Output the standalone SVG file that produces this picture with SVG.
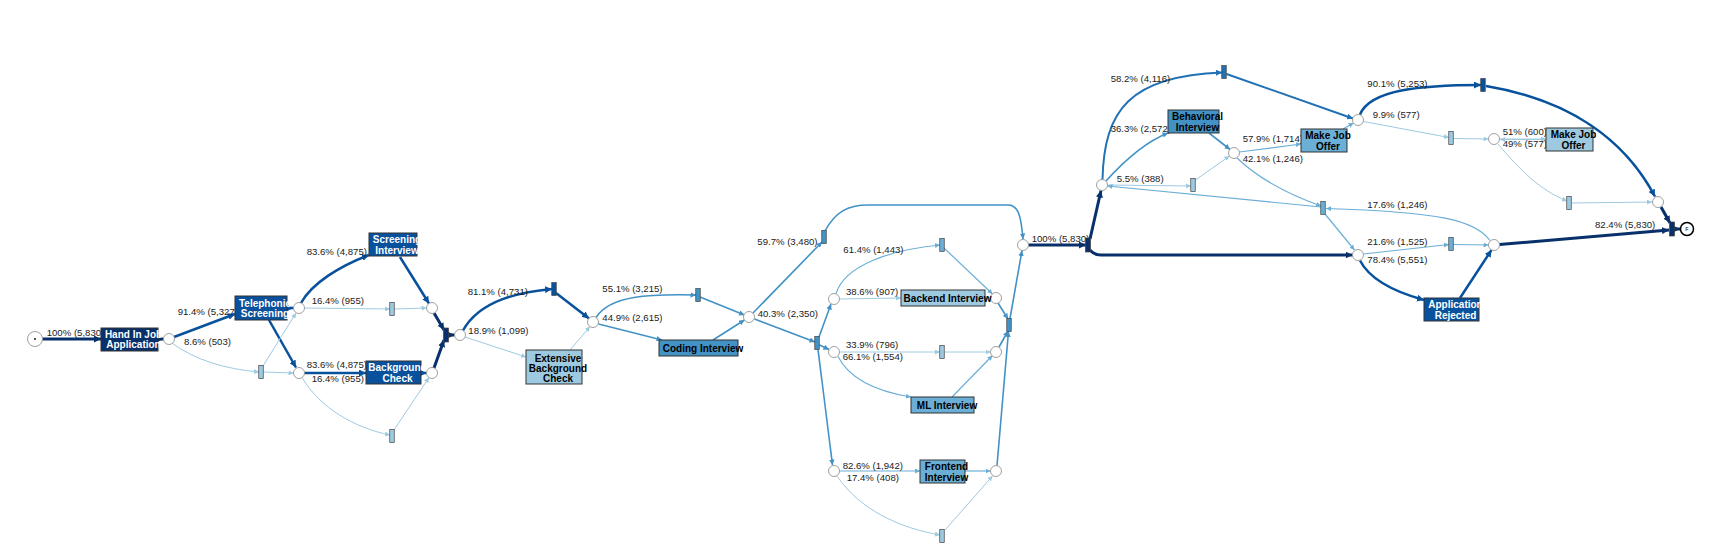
<svg xmlns="http://www.w3.org/2000/svg" width="1720" height="560" viewBox="0 0 1720 560">
<style>
.e{fill:none}
.nv{stroke:#08306b;stroke-width:3}
.dk{stroke:#08519c;stroke-width:2.5}
.b2{stroke:#2171b5;stroke-width:2}
.b3{stroke:#4292c6;stroke-width:1.6}
.b4{stroke:#6baed6;stroke-width:1.2}
.b5{stroke:#9ecae1;stroke-width:1}
.lbl{font-family:"Liberation Sans",Arial,sans-serif;font-size:9.6px;fill:#1a1a1a}
.nt{font-family:"Liberation Sans",Arial,sans-serif;font-size:10px;font-weight:bold;text-anchor:middle}
.w{fill:#fff}
.k{fill:#000}
.box{stroke:#333;stroke-width:1}
.pl{fill:#fff;stroke:#888;stroke-width:0.8}
.bar{stroke:#444;stroke-width:0.7}
</style>
<defs>
<marker id="mnv" viewBox="0 0 10 10" refX="10" refY="5" markerWidth="7" markerHeight="7" markerUnits="userSpaceOnUse" orient="auto"><path d="M0,0L10,5L0,10z" fill="#08306b"/></marker>
<marker id="mdk" viewBox="0 0 10 10" refX="10" refY="5" markerWidth="7" markerHeight="7" markerUnits="userSpaceOnUse" orient="auto"><path d="M0,0L10,5L0,10z" fill="#08519c"/></marker>
<marker id="mb2" viewBox="0 0 10 10" refX="10" refY="5" markerWidth="6" markerHeight="6" markerUnits="userSpaceOnUse" orient="auto"><path d="M0,0L10,5L0,10z" fill="#2171b5"/></marker>
<marker id="mb3" viewBox="0 0 10 10" refX="10" refY="5" markerWidth="5.5" markerHeight="5.5" markerUnits="userSpaceOnUse" orient="auto"><path d="M0,0L10,5L0,10z" fill="#4292c6"/></marker>
<marker id="mb4" viewBox="0 0 10 10" refX="10" refY="5" markerWidth="5" markerHeight="5" markerUnits="userSpaceOnUse" orient="auto"><path d="M0,0L10,5L0,10z" fill="#6baed6"/></marker>
<marker id="mb5" viewBox="0 0 10 10" refX="10" refY="5" markerWidth="5" markerHeight="5" markerUnits="userSpaceOnUse" orient="auto"><path d="M0,0L10,5L0,10z" fill="#9ecae1"/></marker>
</defs>
<rect width="1720" height="560" fill="#fff"/>

<g id="connectors">
<path class="e nv" marker-end="url(#mnv)" d="M42.5,339L101,339"/>
<path class="e nv" marker-end="url(#mnv)" d="M158,339L163.5,339"/>
<path class="e dk" marker-end="url(#mdk)" d="M174,337L235,314"/>
<path class="e b5" marker-end="url(#mb5)" d="M172,343C195,360 225,369 259,372"/>
<path class="e dk" marker-end="url(#mdk)" d="M287,308L293.5,308"/>
<path class="e dk" marker-end="url(#mdk)" d="M269,320L296,367.5"/>
<path class="e dk" marker-end="url(#mdk)" d="M301,303C312,283 340,266 369,255"/>
<path class="e b5" marker-end="url(#mb5)" d="M304.5,308L390,309"/>
<path class="e b5" marker-end="url(#mb5)" d="M394.5,309L426.5,308"/>
<path class="e b5" marker-end="url(#mb5)" d="M263,366L296,313"/>
<path class="e b5" marker-end="url(#mb5)" d="M263.5,372L293.5,373"/>
<path class="e dk" marker-end="url(#mdk)" d="M304.5,373L366,373"/>
<path class="e b5" marker-end="url(#mb5)" d="M302,377.5C320,408 355,428 390,435"/>
<path class="e dk" marker-end="url(#mdk)" d="M421,373L426.5,373"/>
<path class="e b5" marker-end="url(#mb5)" d="M394,430L429,377.5"/>
<path class="e dk" marker-end="url(#mdk)" d="M400,257L429,303.5"/>
<path class="e nv" marker-end="url(#mnv)" d="M434,313L444,330"/>
<path class="e nv" marker-end="url(#mnv)" d="M434,368L444,340"/>
<path class="e nv" marker-end="url(#mnv)" d="M448,335L454.5,335"/>
<path class="e dk" marker-end="url(#mdk)" d="M463,330.5C480,300 520,292 552,289"/>
<path class="e b5" marker-end="url(#mb5)" d="M465,337L526,357"/>
<path class="e dk" marker-end="url(#mdk)" d="M556,293L589,318.5"/>
<path class="e b5" marker-end="url(#mb5)" d="M570,350L590,326.5"/>
<path class="e b3" marker-end="url(#mb3)" d="M596,317.5C610,295 650,294 696,295"/>
<path class="e b3" marker-end="url(#mb3)" d="M598.5,324L662,340"/>
<path class="e b3" marker-end="url(#mb3)" d="M700,297L744.5,315"/>
<path class="e b3" marker-end="url(#mb3)" d="M713,340L744.5,320"/>
<path class="e b3" marker-end="url(#mb3)" d="M753,313L822,242"/>
<path class="e b3" marker-end="url(#mb3)" d="M754.5,319L815,342"/>
<path class="e b3" marker-end="url(#mb3)" d="M825,231C835,212 848,205 868,205L1008,205C1018,205 1021,215 1023,239"/>
<path class="e b3" marker-end="url(#mb3)" d="M819,337L831,304"/>
<path class="e b3" marker-end="url(#mb3)" d="M819.5,345L829,349.5"/>
<path class="e b3" marker-end="url(#mb3)" d="M818,349.5L832.5,465"/>
<path class="e b4" marker-end="url(#mb4)" d="M836,293.5C845,265 890,250 940,245"/>
<path class="e b5" marker-end="url(#mb5)" d="M839.5,299L901,298"/>
<path class="e b4" marker-end="url(#mb4)" d="M944,248L992.5,294"/>
<path class="e b5" marker-end="url(#mb5)" d="M985,298L990.5,298"/>
<path class="e b3" marker-end="url(#mb3)" d="M998,303L1008,319"/>
<path class="e b5" marker-end="url(#mb5)" d="M839.5,352L940,352"/>
<path class="e b5" marker-end="url(#mb5)" d="M944.5,352L990.5,352"/>
<path class="e b4" marker-end="url(#mb4)" d="M838,356.5C850,380 880,392 911,397"/>
<path class="e b4" marker-end="url(#mb4)" d="M952,397L992.5,355.5"/>
<path class="e b3" marker-end="url(#mb3)" d="M999,347L1008,331"/>
<path class="e b4" marker-end="url(#mb4)" d="M839.5,471L920,471"/>
<path class="e b4" marker-end="url(#mb4)" d="M965,471L990.5,471"/>
<path class="e b5" marker-end="url(#mb5)" d="M837,476C860,510 900,528 940,535"/>
<path class="e b5" marker-end="url(#mb5)" d="M945,530L992.5,476"/>
<path class="e b3" marker-end="url(#mb3)" d="M997,465.5L1008.5,331.5"/>
<path class="e b3" marker-end="url(#mb3)" d="M1010,318.5L1022,250.5"/>
<path class="e nv" marker-end="url(#mnv)" d="M1028.5,245L1086,245"/>
<path class="e nv" marker-end="url(#mnv)" d="M1090,239L1101,190.5"/>
<path class="e nv" marker-end="url(#mnv)" d="M1090,250Q1094,255 1101,255L1352.5,255"/>
<path class="e b2" marker-end="url(#mb2)" d="M1102.5,179.5C1104,110 1130,76 1222,72.5"/>
<path class="e b3" marker-end="url(#mb3)" d="M1106,181C1125,160 1145,142 1168,133"/>
<path class="e b5" marker-end="url(#mb5)" d="M1107.5,185L1191,186"/>
<path class="e b5" marker-end="url(#mb5)" d="M1195.5,180L1229.5,156"/>
<path class="e b3" marker-end="url(#mb3)" d="M1209,133L1230,149.5"/>
<path class="e b4" marker-end="url(#mb4)" d="M1239.5,152L1301,144"/>
<path class="e b4" marker-end="url(#mb4)" d="M1237,158C1260,180 1290,195 1321,206"/>
<path class="e b4" marker-end="url(#mb4)" d="M1343,129L1353.5,123"/>
<path class="e b2" marker-end="url(#mb2)" d="M1226.5,74L1353,118.5"/>
<path class="e b4" marker-end="url(#mb4)" d="M1321,207L1107.5,186"/>
<path class="e b4" marker-end="url(#mb4)" d="M1325,214L1354.5,250"/>
<path class="e dk" marker-end="url(#mdk)" d="M1360,114.5C1370,90 1420,85 1481,85"/>
<path class="e b5" marker-end="url(#mb5)" d="M1363.5,121.5L1449,137.5"/>
<path class="e b5" marker-end="url(#mb5)" d="M1453.5,138.5L1488.5,139"/>
<path class="e b5" marker-end="url(#mb5)" d="M1499.5,139L1546,139"/>
<path class="e b5" marker-end="url(#mb5)" d="M1546,139.5L1500,139.5"/>
<path class="e b5" marker-end="url(#mb5)" d="M1498,144C1520,170 1540,190 1567,201"/>
<path class="e b5" marker-end="url(#mb5)" d="M1571.5,203L1652,202"/>
<path class="e dk" marker-end="url(#mdk)" d="M1486,86C1570,100 1625,140 1655,196.5"/>
<path class="e nv" marker-end="url(#mnv)" d="M1661,207L1670,223"/>
<path class="e nv" marker-end="url(#mnv)" d="M1674.5,229L1680,229"/>
<path class="e b4" marker-end="url(#mb4)" d="M1363.5,254L1449,244.5"/>
<path class="e b4" marker-end="url(#mb4)" d="M1453.5,244.5L1488.5,245"/>
<path class="e dk" marker-end="url(#mdk)" d="M1360,260.5C1370,280 1395,292 1424,300"/>
<path class="e dk" marker-end="url(#mdk)" d="M1460,298L1491.5,250"/>
<path class="e b4" marker-end="url(#mb4)" d="M1490,240.5C1475,220 1440,212 1326,208.5"/>
<path class="e nv" marker-end="url(#mnv)" d="M1499.5,244.5L1669,230"/>
</g>

<g id="edge-labels" class="lbl">
<text x="46.7" y="336">100% (5,830)</text>
<text x="177.7" y="315">91.4% (5,327)</text>
<text x="184" y="345">8.6% (503)</text>
<text x="306.7" y="255">83.6% (4,875)</text>
<text x="311.7" y="304.3">16.4% (955)</text>
<text x="306.7" y="368.3">83.6% (4,875)</text>
<text x="311.7" y="381.7">16.4% (955)</text>
<text x="467.7" y="295">81.1% (4,731)</text>
<text x="468.3" y="334">18.9% (1,099)</text>
<text x="602.3" y="292.3">55.1% (3,215)</text>
<text x="602.3" y="321.3">44.9% (2,615)</text>
<text x="757.7" y="317.3">40.3% (2,350)</text>
<text x="757.3" y="245">59.7% (3,480)</text>
<text x="843.3" y="253.3">61.4% (1,443)</text>
<text x="846" y="295">38.6% (907)</text>
<text x="846" y="347.7">33.9% (796)</text>
<text x="842.7" y="360">66.1% (1,554)</text>
<text x="842.7" y="469">82.6% (1,942)</text>
<text x="846.7" y="481">17.4% (408)</text>
<text x="1031.7" y="242.3">100% (5,830)</text>
<text x="1110.7" y="82.3">58.2% (4,116)</text>
<text x="1110.7" y="131.7">36.3% (2,572)</text>
<text x="1116.7" y="181.7">5.5% (388)</text>
<text x="1242.7" y="141.7">57.9% (1,714)</text>
<text x="1242.7" y="161.7">42.1% (1,246)</text>
<text x="1367.3" y="86.7">90.1% (5,253)</text>
<text x="1372.7" y="118.3">9.9% (577)</text>
<text x="1502.7" y="135">51% (600)</text>
<text x="1502.7" y="147.3">49% (577)</text>
<text x="1367.3" y="208.3">17.6% (1,246)</text>
<text x="1367.3" y="245">21.6% (1,525)</text>
<text x="1367.3" y="263.3">78.4% (5,551)</text>
<text x="1595" y="227.7">82.4% (5,830)</text>
</g>

<g id="start"><circle cx="35" cy="339" r="7.5" class="pl"/><circle cx="35" cy="339" r="0.9" fill="#000"/></g>
<g id="end"><circle cx="1687" cy="229" r="6.5" fill="#fff" stroke="#000" stroke-width="1.5"/><text x="1687" y="231" font-family="Liberation Sans,Arial,sans-serif" font-size="5.5" text-anchor="middle" fill="#000">F</text></g>

<g id="places">
<circle cx="169" cy="339" r="5.5" class="pl"/>
<circle cx="299" cy="308" r="5.5" class="pl"/>
<circle cx="299" cy="373" r="5.5" class="pl"/>
<circle cx="432" cy="308" r="5.5" class="pl"/>
<circle cx="432" cy="373" r="5.5" class="pl"/>
<circle cx="460" cy="335" r="5.5" class="pl"/>
<circle cx="593" cy="322" r="5.5" class="pl"/>
<circle cx="749" cy="317" r="5.5" class="pl"/>
<circle cx="834" cy="299" r="5.5" class="pl"/>
<circle cx="996" cy="298" r="5.5" class="pl"/>
<circle cx="834" cy="352" r="5.5" class="pl"/>
<circle cx="996" cy="352" r="5.5" class="pl"/>
<circle cx="834" cy="471" r="5.5" class="pl"/>
<circle cx="996" cy="471" r="5.5" class="pl"/>
<circle cx="1023" cy="245" r="5.5" class="pl"/>
<circle cx="1102" cy="185" r="5.5" class="pl"/>
<circle cx="1234" cy="153" r="5.5" class="pl"/>
<circle cx="1358" cy="120" r="5.5" class="pl"/>
<circle cx="1494" cy="139" r="5.5" class="pl"/>
<circle cx="1658" cy="202" r="5.5" class="pl"/>
<circle cx="1358" cy="255" r="5.5" class="pl"/>
<circle cx="1494" cy="245" r="5.5" class="pl"/>
</g>

<g id="bars" class="bar">
<rect x="258.75" y="365.5" width="4.5" height="13" fill="#9ecae1"/>
<rect x="389.75" y="302.5" width="4.5" height="13" fill="#9ecae1"/>
<rect x="389.75" y="429.5" width="4.5" height="13" fill="#9ecae1"/>
<rect x="443.5" y="328" width="5" height="14" fill="#08306b"/>
<rect x="551.75" y="282.5" width="4.5" height="13" fill="#08519c"/>
<rect x="695.75" y="288.5" width="4.5" height="13" fill="#4292c6"/>
<rect x="821.75" y="230.5" width="4.5" height="13" fill="#4292c6"/>
<rect x="814.75" y="336.5" width="4.5" height="13" fill="#4292c6"/>
<rect x="939.75" y="238.5" width="4.5" height="13" fill="#6baed6"/>
<rect x="939.75" y="345.5" width="4.5" height="13" fill="#9ecae1"/>
<rect x="939.75" y="529.5" width="4.5" height="13" fill="#9ecae1"/>
<rect x="1006.75" y="318.5" width="4.5" height="13" fill="#4292c6"/>
<rect x="1085.5" y="238" width="5" height="14" fill="#08306b"/>
<rect x="1221.75" y="65.5" width="4.5" height="13" fill="#2171b5"/>
<rect x="1190.75" y="178.5" width="4.5" height="13" fill="#9ecae1"/>
<rect x="1320.75" y="201.5" width="4.5" height="13" fill="#6baed6"/>
<rect x="1480.75" y="78.5" width="4.5" height="13" fill="#08519c"/>
<rect x="1448.75" y="131.5" width="4.5" height="13" fill="#9ecae1"/>
<rect x="1566.75" y="196.5" width="4.5" height="13" fill="#9ecae1"/>
<rect x="1448.75" y="237.5" width="4.5" height="13" fill="#6baed6"/>
<rect x="1669.5" y="222" width="5" height="14" fill="#08306b"/>
</g>

<g id="hand-in-job-application"><rect class="box" x="101" y="328" width="57" height="23" fill="#08306b"/><text class="nt w" x="133.5" y="338">Hand In Job</text><text class="nt w" x="133.5" y="348.3">Application</text></g>
<g id="telephonic-screening"><rect class="box" x="235" y="296" width="52" height="24" fill="#08519c"/><text class="nt w" x="265" y="306.7">Telephonic</text><text class="nt w" x="265" y="317.2">Screening</text></g>
<g id="screening-interview"><rect class="box" x="369" y="233" width="48" height="23" fill="#08519c"/><text class="nt w" x="397" y="243.2">Screening</text><text class="nt w" x="397" y="253.5">Interview</text></g>
<g id="background-check"><rect class="box" x="366" y="361" width="55" height="23" fill="#08519c"/><text class="nt w" x="397.5" y="371.2">Background</text><text class="nt w" x="397.5" y="381.5">Check</text></g>
<g id="extensive-background-check"><rect class="box" x="526" y="350" width="56" height="34" fill="#9ecae1"/><text class="nt k" x="558" y="361.7">Extensive</text><text class="nt k" x="558" y="372">Background</text><text class="nt k" x="558" y="381.7">Check</text></g>
<g id="coding-interview"><rect class="box" x="659" y="340" width="79" height="16" fill="#4292c6"/><text class="nt k" x="703" y="351.5">Coding Interview</text></g>
<g id="backend-interview"><rect class="box" x="901" y="290" width="84" height="16" fill="#9ecae1"/><text class="nt k" x="947.5" y="301.5">Backend Interview</text></g>
<g id="ml-interview"><rect class="box" x="911" y="397" width="63" height="16" fill="#6baed6"/><text class="nt k" x="947" y="408.5">ML Interview</text></g>
<g id="frontend-interview"><rect class="box" x="920" y="460" width="45" height="23" fill="#6baed6"/><text class="nt k" x="946.5" y="470.2">Frontend</text><text class="nt k" x="946.5" y="480.5">Interview</text></g>
<g id="behavioral-interview"><rect class="box" x="1168" y="110" width="51" height="23" fill="#4292c6"/><text class="nt k" x="1197.5" y="120.2">Behavioral</text><text class="nt k" x="1197.5" y="130.5">Interview</text></g>
<g id="make-job-offer-1"><rect class="box" x="1301" y="129" width="46" height="23" fill="#6baed6"/><text class="nt k" x="1328" y="139.2">Make Job</text><text class="nt k" x="1328" y="149.5">Offer</text></g>
<g id="make-job-offer-2"><rect class="box" x="1546" y="128" width="47" height="23" fill="#9ecae1"/><text class="nt k" x="1573.5" y="138.2">Make Job</text><text class="nt k" x="1573.5" y="148.5">Offer</text></g>
<g id="application-rejected"><rect class="box" x="1424" y="298" width="55" height="23" fill="#08519c"/><text class="nt w" x="1455.5" y="308.2">Application</text><text class="nt w" x="1455.5" y="318.5">Rejected</text></g>
</svg>
